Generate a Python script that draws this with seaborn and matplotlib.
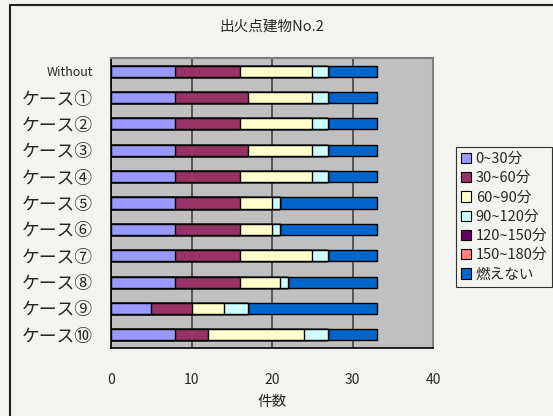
import numpy as np
import pandas as pd
import matplotlib
matplotlib.use('Agg')
import matplotlib.pyplot as plt
import seaborn as sns
from matplotlib.patches import Patch
from matplotlib.lines import Line2D

# data
cases = ['Without', 'ケース①', 'ケース②', 'ケース③', 'ケース④', 'ケース⑤',
         'ケース⑥', 'ケース⑦', 'ケース⑧', 'ケース⑨', 'ケース⑩']
series = ['0~30分', '30~60分', '60~90分', '90~120分', '120~150分', '150~180分', '燃えない']
v_0_30 = [8, 8, 8, 8, 8, 8, 8, 8, 8, 5, 8]
v_30_60 = [8, 9, 8, 9, 8, 8, 8, 8, 8, 5, 4]
v_60_90 = [9, 8, 9, 8, 9, 4, 4, 9, 5, 4, 12]
v_90_120 = [2, 2, 2, 2, 2, 1, 1, 2, 1, 3, 3]
v_120_150 = [0, 0, 0, 0, 0, 0, 0, 0, 0, 0, 0]
v_150_180 = [0, 0, 0, 0, 0, 0, 0, 0, 0, 0, 0]
v_none = [6, 6, 6, 6, 6, 12, 12, 6, 11, 16, 6]
colors = ['#9999FF', '#993366', '#FFFFCC', '#CCFFFF', '#660066', '#FF8080', '#0066CC']

df = pd.DataFrame({'case': cases})
for name, vals in zip(series, [v_0_30, v_30_60, v_60_90, v_90_120, v_120_150, v_150_180, v_none]):
    df[name] = vals
cum = df[series].cumsum(axis=1)

sns.set_style('white')
plt.rcParams['font.family'] = ['Noto Sans CJK JP', 'DejaVu Sans']

bg = '#F3F3EF'
fig = plt.figure(figsize=(5.53, 4.16), dpi=100, facecolor=bg)
ax = fig.add_axes([111 / 553, 1 - 348 / 416, (433 - 111) / 553, (348 - 58) / 416])
ax.set_facecolor('#C0C0C0')

# stacked bars: draw cumulative totals from the top series down
for name, col in reversed(list(zip(series, colors))):
    sns.barplot(x=cum[name], y=df['case'], orient='h', color=col, width=0.42,
                edgecolor='black', linewidth=1.0, ax=ax, saturation=1, zorder=3)

ax.set_xlim(0, 40)
ax.set_ylim(len(cases) - 0.5, -0.5)
ax.set_xticks([0, 10, 20, 30, 40])
ax.xaxis.grid(True, color='#444444', linewidth=1.2, zorder=0)
ax.set_axisbelow(True)
for s in ['left', 'bottom']:
    ax.spines[s].set_color('black')
    ax.spines[s].set_linewidth(1.2)
for s in ['top', 'right']:
    ax.spines[s].set_color('#808080')
    ax.spines[s].set_linewidth(1.5)

ax.tick_params(axis='x', direction='out', length=4, width=1, pad=14, labelsize=10)
ax.tick_params(axis='y', length=0, pad=13)
ax.set_yticks(np.arange(len(cases)))
ax.set_yticklabels(cases)
for i, lab in enumerate(ax.get_yticklabels()):
    lab.set_fontsize(9 if i == 0 else 12.8)
# small category separators on the left axis
ax.set_yticks(np.arange(len(cases) + 1) - 0.5, minor=True)
ax.tick_params(axis='y', which='minor', direction='in', length=4, width=1)

ax.set_xlabel('件数', fontsize=10.5, labelpad=6)
ax.set_ylabel('')
fig.text(272 / 553, 1 - 27 / 416, '出火点建物No.2', ha='center', va='center', fontsize=10.5)

handles = [Patch(facecolor=c, edgecolor='black', linewidth=0.8) for c in colors]
leg = fig.legend(handles, series, loc='upper left', bbox_to_anchor=(456 / 553, 1 - 147 / 416),
                 fontsize=10.5, frameon=True, fancybox=False, handlelength=0.7, handleheight=0.7,
                 handletextpad=0.3, labelspacing=0.36, borderpad=0.35, borderaxespad=0)
leg.get_frame().set_edgecolor('black')
leg.get_frame().set_facecolor(bg)
leg.get_frame().set_linewidth(0.8)

# outer chart frame (top and left edges visible)
fig.add_artist(Line2D([10 / 553, 10 / 553], [0, 1 - 5 / 416], transform=fig.transFigure,
                      color='#222222', linewidth=1.5))
fig.add_artist(Line2D([10 / 553, 1], [1 - 5 / 416, 1 - 5 / 416], transform=fig.transFigure,
                      color='#222222', linewidth=1.5))

fig.savefig('out.png', dpi=100, facecolor=bg)
